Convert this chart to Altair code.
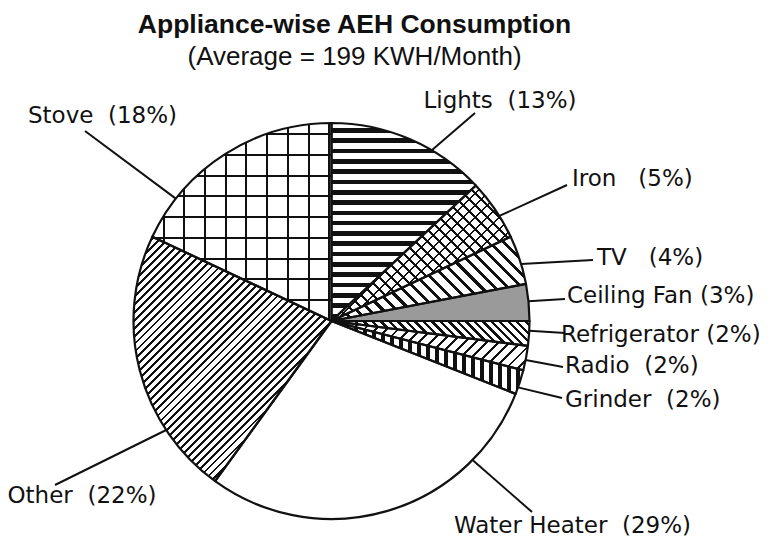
import math
import altair as alt
import pandas as pd

# ---------------- data ----------------
appliances = ["Lights", "Iron", "TV", "Ceiling Fan", "Refrigerator",
              "Radio", "Grinder", "Water Heater", "Other", "Stove"]
shares = [13, 5, 4, 3, 2, 2, 2, 29, 22, 18]
title_text = "Appliance-wise AEH Consumption"
subtitle_text = "(Average = 199 KWH/Month)"

# ---------------- layout / style ----------------
CX, CY, R = 323.5, 313, 198
label_gap = [2, 3, 3, 1, 1, 2, 2, 2, 2, 2]
anchor_frac = [0.65, 0.62, 0.59, 0.47, 0.39, 0.58, 0.72, 0.22, 0.26, 0.20]
line_end_x = [467, 559, 585, 557, 557, 555, 554, 524, 47, 77]
line_end_y = [105, 177, 252, 291, 325, 359, 390, 504, 477, 123]
text_x = [492, 564, 589, 559, 553, 557, 557, 564.5, 74, 94.5]
text_y = [100, 178, 257, 295, 334, 365, 399, 525, 495, 115]
text_align = ["center", "left", "left", "left", "left", "left", "left",
              "center", "center", "center"]

INK = "#111111"
CLEAR = "rgba(0,0,0,0)"
patterns = {
    "Lights": [("h", 10.3, 4.6)],
    "Iron": [("fwd", 8.5, 1.8), ("back", 8.5, 1.8)],
    "TV": [("back", 9.5, 3.0)],
    "Refrigerator": [("back", 6.0, 2.4)],
    "Radio": [("fwd", 8.0, 2.0)],
    "Grinder": [("v", 9.0, 4.0)],
    "Other": [("fwd", 5.6, 2.0)],
    "Stove": [("h", 20.7, 2.0), ("v", 20.7, 2.0)],
}
flat_fill = {"Ceiling Fan": "#9a9a9a"}


def arc_bbox(p0, p1):
    a0 = p0 / 100 * 2 * math.pi
    a1 = p1 / 100 * 2 * math.pi
    pts = [(0, 0), (R * math.sin(a0), -R * math.cos(a0)),
           (R * math.sin(a1), -R * math.cos(a1))]
    for k in range(5):
        a = k * math.pi / 2
        if a0 < a < a1:
            pts.append((R * math.sin(a), -R * math.cos(a)))
    xs = [p[0] for p in pts]
    ys = [p[1] for p in pts]
    return max(xs) - min(xs), max(ys) - min(ys)


def stripe_gradient(kind, period, line, w, h):
    if kind == "h":
        vec = dict(x1=0, y1=0, x2=0, y2=1)
        span = h
    elif kind == "v":
        vec = dict(x1=0, y1=0, x2=1, y2=0)
        span = w
    else:
        k = (w + h) / (w * w + h * h)
        span = (w + h) / math.sqrt(2)
        if kind == "fwd":
            vec = dict(x1=0, y1=0, x2=round(k * w, 5), y2=round(k * h, 5))
        else:
            vec = dict(x1=0, y1=1, x2=round(k * w, 5), y2=round(1 - k * h, 5))
    step = period / span
    dark = line / span
    stops = [alt.GradientStop(offset=0, color=CLEAR)]
    t = step / 2
    while t < 1:
        a = round(t, 5)
        b = round(min(t + dark, 1), 5)
        stops += [alt.GradientStop(offset=a, color=CLEAR),
                  alt.GradientStop(offset=a, color=INK),
                  alt.GradientStop(offset=b, color=INK),
                  alt.GradientStop(offset=b, color=CLEAR)]
        t += step
    stops.append(alt.GradientStop(offset=1, color=CLEAR))
    return alt.LinearGradient(gradient="linear", stops=stops, **vec)


nb = "\u00a0"
labels = [f"{a}{nb * g}({s}%)" for a, s, g in zip(appliances, shares, label_gap)]

df = pd.DataFrame({
    "appliance": appliances,
    "share": shares,
    "order": list(range(len(appliances))),
    "label": labels,
    "frac": anchor_frac,
    "ex": line_end_x,
    "ey": line_end_y,
    "tx": text_x,
    "ty": text_y,
    "align": text_align,
})

base = alt.Chart(df).transform_window(
    cum="sum(share)", sort=[alt.SortField("order")], frame=[None, 0]
).transform_calculate(start="datum.cum - datum.share")

theta = alt.Theta("start:Q", scale=alt.Scale(domain=[0, 100]), stack=None)
theta2 = alt.Theta2("cum:Q")


def arcs(chart, **mark):
    return chart.mark_arc(outerRadius=R, **mark).encode(
        theta=theta, theta2=theta2, x=alt.value(CX), y=alt.value(CY))


layers = [arcs(base, fill="white")]

# pattern layers
cum = 0
for name, s in zip(appliances, shares):
    w, h = arc_bbox(cum, cum + s)
    sub = base.transform_filter(alt.datum.appliance == name)
    if name in flat_fill:
        layers.append(arcs(sub, fill=flat_fill[name]))
    for kind, period, line in patterns.get(name, []):
        layers.append(arcs(sub, fill=stripe_gradient(kind, period, line, w, h)))
    cum += s

# outlines
layers.append(arcs(base, fill="white", fillOpacity=0, stroke=INK,
                   strokeWidth=2.2, strokeJoin="round"))

# leader lines
rules = base.transform_calculate(
    ang="(datum.start + datum.frac * datum.share) / 100 * 2 * PI",
).transform_calculate(
    ax=f"{CX} + {R} * sin(datum.ang)",
    ay=f"{CY} - {R} * cos(datum.ang)",
).mark_rule(color=INK, strokeWidth=2).encode(
    x=alt.X("ax:Q", scale=None, axis=None),
    y=alt.Y("ay:Q", scale=None, axis=None),
    x2="ex:Q",
    y2="ey:Q",
)
layers.append(rules)

for al in ["left", "center"]:
    layers.append(
        alt.Chart(df).transform_filter(alt.datum.align == al).mark_text(
            font="DejaVu Sans", fontSize=23, align=al, baseline="alphabetic",
            color=INK,
        ).encode(
            x=alt.X("tx:Q", scale=None, axis=None),
            y=alt.Y("ty:Q", scale=None, axis=None),
            text="label:N",
        )
    )

title_df = pd.DataFrame({"t": [title_text]})
sub_df = pd.DataFrame({"t": [subtitle_text]})
layers.append(
    alt.Chart(title_df).mark_text(
        font="Liberation Sans", fontWeight="bold", fontSize=26.5,
        align="center", baseline="alphabetic", color=INK,
    ).encode(text="t:N", x=alt.value(346.5), y=alt.value(25))
)
layers.append(
    alt.Chart(sub_df).mark_text(
        font="Liberation Sans", fontSize=26, align="center",
        baseline="alphabetic", color=INK,
    ).encode(text="t:N", x=alt.value(346.5), y=alt.value(57))
)

chart = alt.layer(*layers).properties(
    width=752, height=530,
    autosize=alt.AutoSizeParams(type="none"),
    padding=0,
).configure_view(stroke=None)

chart.save("out.html", embed_options={"renderer": "svg", "actions": False})
